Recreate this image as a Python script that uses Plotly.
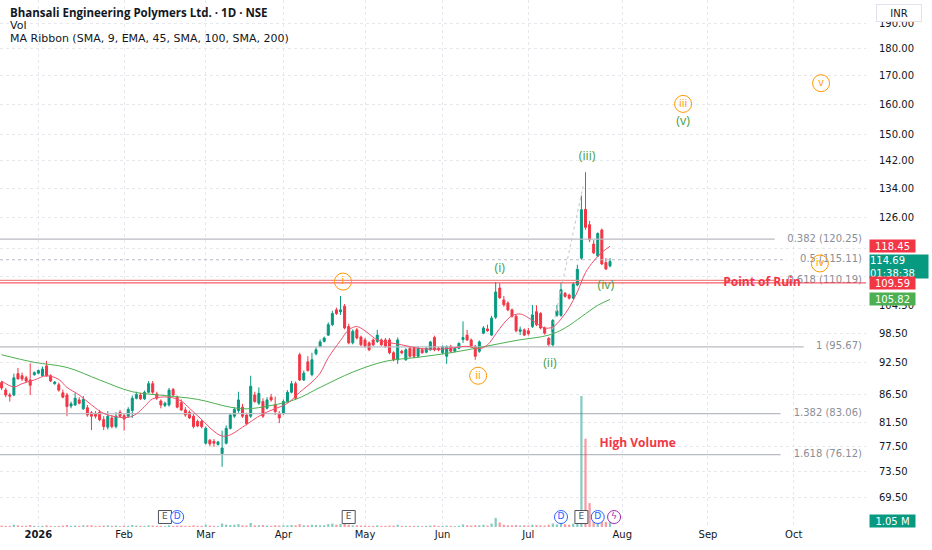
import numpy as np
import pandas as pd
import plotly.graph_objects as go

# ---- data --------------------------------------------------------------------
holidays = ["2025-12-25", "2026-01-26", "2026-03-03", "2026-03-26", "2026-03-31",
            "2026-04-03", "2026-04-14", "2026-05-01", "2026-05-28", "2026-06-26",
            "2026-09-14", "2026-10-02", "2026-10-20"]
sessions = pd.bdate_range("2025-12-18", "2026-10-30")
sessions = sessions[~sessions.isin(pd.to_datetime(holidays))]

opens = [88.7, 87.3, 86.4, 86.4, 90.4, 90.0, 89.6, 89.2, 90.2, 90.5,
         90.0, 91.9, 90.0, 88.5, 88.3, 86.8, 86.4, 84.4, 84.6, 85.5,
         83.9, 84.1, 83.2, 83.1, 83.3, 82.0, 80.7, 82.3, 80.8, 83.3,
         82.7, 82.6, 83.6, 85.8, 86.4, 85.7, 86.9, 88.5, 86.6, 85.3,
         84.5, 84.6, 87.4, 86.0, 85.0, 83.7, 83.3, 82.6, 81.7, 81.7,
         78.0, 78.5, 78.3, 77.8, 76.3, 78.0,
         80.5, 82.6, 83.6, 84.2, 82.8, 82.6, 86.4, 84.9, 85.2, 84.0,
         86.0, 84.6, 83.1, 83.1, 85.2, 86.9, 88.5, 94.1, 89.2, 92.7,
         90.2, 94.3, 95.8, 96.8, 98.1, 100.3, 103.5, 103.1, 104.3, 99.9,
         96.5, 99.2, 97.7, 97.1, 96.5, 97.1, 96.8, 97.1, 97.1, 97.1,
         94.5, 93.1, 94.8, 93.1, 95.4, 95.4, 93.8, 95.1, 94.6, 95.1,
         97.6, 95.4, 94.5, 93.8, 95.8, 94.8, 95.4, 97.2, 98.1, 97.1,
         95.8, 94.8, 98.5, 99.4, 98.1, 101.9, 108.4, 105.7, 105.0, 103.5, 102.1,
         98.9, 99.2, 99.0, 99.9, 103.1, 102.7, 99.6, 97.4, 96.1, 102.3,
         102.3, 107.2, 106.8, 106.1, 109.1, 115.5, 128.1, 124.0, 119.0, 116.0,
         122.6, 114.4, 113.6]
highs = [89.0, 87.7, 86.8, 90.4, 91.5, 90.6, 90.0, 92.4, 90.8, 91.2,
         91.8, 92.9, 90.3, 89.0, 88.7, 87.4, 86.8, 85.2, 86.8, 86.0,
         86.2, 84.6, 83.5, 83.5, 83.7, 82.6, 83.5, 82.8, 83.3, 83.7,
         83.0, 84.2, 86.3, 87.0, 86.8, 87.2, 89.0, 89.0, 87.0, 85.6,
         85.2, 87.7, 87.7, 86.3, 85.6, 84.2, 83.6, 83.0, 82.0, 82.0,
         80.8, 78.7, 78.7, 78.4, 80.1, 81.0,
         83.0, 84.2, 87.0, 84.8, 83.2, 90.0, 87.0, 87.8, 85.8, 86.0,
         86.6, 86.1, 83.5, 85.6, 87.3, 89.0, 88.9, 94.5, 91.0, 93.8,
         94.5, 95.6, 97.2, 97.8, 100.8, 103.3, 104.0, 106.6, 104.8, 100.5,
         99.3, 99.6, 98.0, 97.5, 96.8, 97.4, 99.2, 97.4, 97.5, 97.5,
         94.8, 97.6, 95.1, 95.4, 95.7, 95.8, 95.8, 95.4, 95.6, 96.9,
         98.0, 95.7, 96.0, 96.0, 96.1, 95.6, 96.6, 101.0, 99.2, 97.4,
         96.1, 97.0, 100.0, 100.3, 102.2, 109.8, 109.5, 106.6, 105.4, 103.8, 102.4,
         99.9, 99.5, 99.6, 104.6, 104.5, 103.0, 99.9, 97.7, 101.5, 104.6,
         109.6, 107.5, 107.1, 109.7, 113.9, 131.9, 138.6, 125.0, 120.0, 122.0,
         123.0, 115.5, 115.5]
lows = [87.3, 86.0, 85.2, 86.2, 89.3, 89.0, 88.8, 86.4, 90.0, 90.3,
        89.9, 89.8, 88.8, 88.3, 87.0, 85.8, 82.6, 84.0, 84.4, 84.7,
        83.7, 82.5, 80.2, 82.2, 81.7, 80.2, 80.3, 80.5, 80.5, 82.4,
        80.1, 82.3, 82.3, 85.6, 85.5, 85.5, 86.7, 86.6, 85.5, 84.0,
        84.2, 84.3, 86.2, 84.0, 83.5, 82.5, 82.1, 80.5, 80.7, 80.5,
        77.8, 77.5, 77.4, 77.6, 74.2, 77.8,
        80.3, 82.3, 83.2, 82.3, 81.0, 82.3, 85.0, 84.6, 82.3, 83.8,
        85.2, 82.8, 81.4, 82.8, 85.0, 86.7, 85.5, 89.0, 89.0, 90.8,
        89.9, 94.0, 95.6, 96.6, 97.9, 100.0, 102.4, 102.4, 99.3, 96.2,
        96.2, 97.2, 95.8, 95.5, 94.8, 95.8, 96.5, 95.9, 95.5, 94.2,
        92.8, 92.3, 94.2, 92.9, 93.5, 93.4, 93.5, 94.3, 94.4, 94.9,
        94.8, 94.8, 94.2, 92.3, 94.5, 94.6, 95.2, 96.5, 96.9, 95.5,
        93.1, 94.5, 98.3, 98.8, 97.9, 101.5, 105.9, 104.2, 103.2, 101.8, 98.7,
        98.1, 97.9, 98.0, 99.6, 100.0, 99.3, 98.2, 95.67, 95.7, 102.0,
        102.0, 106.2, 105.8, 105.9, 108.8, 115.1, 122.7, 119.5, 116.5, 115.8,
        113.8, 112.6, 113.3]
closes = [87.7, 86.4, 86.2, 89.6, 89.4, 89.4, 89.0, 88.2, 90.6, 91.0,
          91.3, 90.0, 89.0, 88.8, 87.3, 86.0, 84.3, 84.8, 85.8, 84.9,
          85.6, 82.8, 82.6, 82.6, 82.0, 80.8, 82.6, 80.8, 82.6, 82.6,
          82.1, 83.8, 85.8, 86.5, 85.7, 86.9, 88.5, 86.9, 85.8, 84.6,
          84.9, 87.3, 86.4, 84.2, 83.7, 82.8, 82.3, 80.8, 80.9, 80.8,
          80.5, 77.9, 78.0, 78.2, 77.2, 80.5,
          82.8, 83.8, 85.5, 82.6, 81.3, 88.0, 85.2, 86.7, 82.6, 85.5,
          85.5, 83.4, 82.3, 85.2, 86.9, 88.5, 85.8, 89.2, 90.5, 91.0,
          93.1, 95.1, 96.7, 97.5, 100.3, 102.7, 102.7, 103.5, 99.6, 96.5,
          98.9, 97.5, 96.1, 95.8, 95.1, 96.1, 98.1, 96.1, 95.8, 94.5,
          93.1, 97.1, 94.5, 95.1, 93.8, 93.8, 95.4, 94.5, 95.4, 96.7,
          95.1, 95.1, 95.7, 95.7, 94.8, 95.4, 96.4, 97.6, 97.1, 95.8,
          93.8, 96.7, 99.6, 99.0, 101.7, 107.5, 106.2, 104.6, 103.5, 102.1, 99.0,
          99.2, 98.1, 98.4, 102.4, 100.3, 99.6, 98.5, 96.1, 101.2, 103.3,
          108.0, 106.5, 106.1, 109.3, 112.8, 128.0, 123.3, 120.1, 116.8, 121.7,
          114.1, 112.9, 114.69]
volume_m = [0.25, 0.2, 0.2, 0.4, 0.3, 0.2, 0.2, 0.35, 0.2, 0.15,
            0.2, 0.3, 0.2, 0.15, 0.2, 0.25, 0.35, 0.2, 0.25, 0.2,
            0.3, 0.3, 0.3, 0.15, 0.2, 0.25, 0.3, 0.2, 0.25, 0.15,
            0.25, 0.2, 0.35, 0.25, 0.2, 0.2, 0.3, 0.25, 0.2, 0.2,
            0.15, 0.3, 0.2, 0.25, 0.25, 0.2, 0.2, 0.3, 0.2, 0.2,
            0.4, 0.25, 0.2, 0.15, 0.6, 0.4,
            0.35, 0.4, 0.5, 0.3, 0.25, 0.7, 0.3, 0.3, 0.35, 0.25,
            0.2, 0.3, 0.25, 0.3, 0.3, 0.35, 0.3, 0.5, 0.3, 0.3,
            0.4, 0.35, 0.3, 0.3, 0.5, 0.6, 0.4, 0.55, 0.6, 0.4,
            0.3, 0.3, 0.25, 0.25, 0.2, 0.2, 0.3, 0.2, 0.2, 0.25,
            0.25, 0.4, 0.2, 0.2, 0.2, 0.2, 0.2, 0.15, 0.2, 0.25,
            0.3, 0.2, 0.2, 0.25, 0.2, 0.15, 0.2, 0.45, 0.3, 0.25,
            0.3, 0.3, 0.4, 0.25, 0.6, 1.6, 0.8, 0.4, 0.3, 0.3, 0.35,
            0.25, 0.3, 0.25, 0.4, 0.35, 0.3, 0.25, 0.4, 0.6, 0.45,
            1.2, 0.5, 0.4, 0.6, 1.0, 23.0, 15.5, 4.2, 1.2, 1.6,
            1.5, 0.9, 1.05]

# moving averages (bar index, value)
sma9_idx = [0, 3, 5, 8, 11, 14, 16, 19, 22, 25, 28, 31, 33, 35, 37, 41, 44, 46, 49, 52,
            54, 56, 59, 64, 70, 73, 76, 78, 80, 83, 85, 87, 89, 92, 94, 98, 102, 106, 110,
            114, 117, 119, 121, 123, 125, 127, 129, 131, 133, 135, 137, 139, 141, 143, 145,
            147, 149]
sma9_val = [89.0, 87.9, 88.5, 89.2, 90.0, 89.3, 87.8, 86.4, 84.6, 83.1, 82.5, 82.4, 83.0,
            84.3, 85.7, 86.0, 85.3, 84.0, 82.0, 80.0, 79.2, 79.4, 80.7, 83.0, 84.9, 86.9,
            88.8, 90.5, 93.5, 97.0, 99.2, 99.9, 99.0, 97.1, 96.7, 96.1, 95.4, 95.2, 95.4,
            95.8, 95.3, 96.1, 98.3, 100.6, 102.2, 102.6, 101.8, 100.6, 99.6, 99.8, 101.5,
            104.0, 107.5, 112.0, 114.8, 116.9, 118.45]
ema45_idx = [0, 8, 16, 24, 32, 40, 48, 56, 60, 66, 72, 78, 86, 94, 102, 110, 118, 126,
             134, 138, 142, 146, 149]
ema45_val = [94.1, 92.6, 91.6, 89.2, 87.0, 86.3, 85.6, 84.2, 83.9, 84.5, 85.6, 87.8, 90.7,
             92.8, 93.6, 94.5, 95.7, 97.0, 98.1, 99.6, 102.0, 104.5, 105.82]

fib_ratio = [0.382, 0.5, 0.618, 1, 1.382, 1.618]
fib_price = [120.25, 115.11, 110.19, 95.67, 83.06, 76.12]
fib_leg_idx = [134, 142.4]
fib_leg_price = [95.67, 134.5]
ruin_price = 109.59

circle_labels = ["i", "ii", "iii", "iv", "v"]
circle_idx = [83.6, 116.7, 166.9, 200.4, 200.7]
circle_price = [109.9, 90.0, 160.2, 114.2, 167.4]
paren_labels = ["(i)", "(ii)", "(iii)", "(iv)", "(v)"]
paren_idx = [122.0, 134.3, 143.4, 148.0, 166.9]
paren_price = [113.0, 92.3, 143.2, 108.8, 154.3]

event_kind = ["E", "D", "E", "D", "E", "D", "S"]
event_idx = [40, 43, 85, 137, 142, 146, 150]

y_ticks = [190, 180, 170, 160, 150, 142, 134, 126, 118, 111, 104.5, 98.5, 92.5, 86.5,
           81.5, 77.5, 73.5, 69.5]

# ---- styling --------------------------------------------------------------------
UP = "#089981"
DOWN = "#f23645"
ORANGE = "#ff9800"
WAVE_GREEN = "#43a047"
FONT = "DejaVu Sans"
GRID = "#e6e8ee"

x = np.arange(len(closes))
x_range = [-0.4, 211.7]
y_lo, y_hi = 65.3, 199.7
vol_top = 92.5

month_idx, month_txt = [], []
for i in range(1, len(sessions)):
    if sessions[i].month != sessions[i - 1].month:
        month_idx.append(i)
        month_txt.append("<b>2026</b>" if sessions[i].month == 1 else sessions[i].strftime("%b"))

fig = go.Figure()

# fib levels: line stops short of its text label
px_per_bar = 866 / (x_range[1] - x_range[0])
for r, p in zip(fib_ratio, fib_price):
    label = f"{r:g} ({p:.2f})"
    end = x_range[1] - 1.0 - (len(label) * 5.8 + 6) / px_per_bar
    fig.add_trace(go.Scatter(x=[x_range[0], end], y=[p, p], mode="lines",
                             line=dict(color="#ee8a8a" if r == 0.618 else "#b8bbc3", width=1.2,
                                       dash="dot" if r == 0.5 else "solid"),
                             hoverinfo="skip", showlegend=False))
    fig.add_trace(go.Scatter(x=[x_range[1] - 1.0], y=[p], mode="text", text=[label],
                             textposition="middle left",
                             textfont=dict(family=FONT, size=10, color="#8a8e97"),
                             hoverinfo="skip", showlegend=False))

fig.add_trace(go.Scatter(x=fib_leg_idx, y=fib_leg_price, mode="lines",
                         line=dict(color="#c3c6cc", width=1, dash="dot"),
                         hoverinfo="skip", showlegend=False))

# point of ruin
fig.add_trace(go.Scatter(x=x_range, y=[ruin_price, ruin_price], mode="lines",
                         line=dict(color=DOWN, width=1),
                         hoverinfo="skip", showlegend=False))
fig.add_trace(go.Scatter(x=[186.2], y=[ruin_price], mode="text", text=["<b>Point of Ruin</b>"],
                         textposition="middle center",
                         textfont=dict(family="Open Sans", size=12, color=DOWN),
                         hoverinfo="skip", showlegend=False))

# candles
fig.add_trace(go.Candlestick(
    x=x, open=opens, high=highs, low=lows, close=closes,
    increasing=dict(line=dict(color=UP, width=1), fillcolor=UP),
    decreasing=dict(line=dict(color=DOWN, width=1), fillcolor=DOWN),
    whiskerwidth=0, hoverinfo="skip", showlegend=False))

# moving averages
fig.add_trace(go.Scatter(x=ema45_idx, y=ema45_val, mode="lines", line_shape="spline",
                         line=dict(color="#4caf50", width=1), hoverinfo="skip", showlegend=False))
fig.add_trace(go.Scatter(x=sma9_idx, y=sma9_val, mode="lines", line_shape="spline",
                         line=dict(color="#f0506e", width=1), hoverinfo="skip", showlegend=False))

# elliott wave labels
fig.add_trace(go.Scatter(x=circle_idx, y=circle_price, mode="markers+text", text=circle_labels,
                         textposition="middle center",
                         textfont=dict(family="Open Sans", size=11, color=ORANGE),
                         marker=dict(symbol="circle", size=17, color="rgba(255,255,255,0)",
                                     line=dict(color=ORANGE, width=1)),
                         hoverinfo="skip", showlegend=False))
fig.add_trace(go.Scatter(x=paren_idx, y=paren_price, mode="text", text=paren_labels,
                         textposition="middle center",
                         textfont=dict(family="Open Sans", size=12.5, color=WAVE_GREEN),
                         hoverinfo="skip", showlegend=False))

fig.add_trace(go.Scatter(x=[155.8], y=[77.9], mode="text", text=["<b>High Volume</b>"],
                         textposition="middle center",
                         textfont=dict(family="Open Sans", size=12, color=DOWN),
                         hoverinfo="skip", showlegend=False))

# volume pane (overlay)
vol_colors = ["rgba(8,153,129,0.5)" if c >= o else "rgba(242,54,69,0.5)"
              for o, c in zip(opens, closes)]
fig.add_trace(go.Bar(x=x, y=volume_m, marker=dict(color=vol_colors, line_width=0), width=0.55,
                     yaxis="y2", hoverinfo="skip", showlegend=False))

# event badges
ev_sym = {"E": "square", "D": "circle", "S": "circle"}
ev_col = {"E": "#50535e", "D": "#2962ff", "S": "#9c27b0"}
ev_txt = {"E": "E", "D": "D", "S": "ϟ"}
fig.add_trace(go.Scatter(
    x=event_idx, y=[1.75] * len(event_idx), yaxis="y2", mode="markers+text",
    text=[ev_txt[k] for k in event_kind], textposition="middle center",
    textfont=dict(family=FONT, size=9, color=[ev_col[k] for k in event_kind]),
    marker=dict(symbol=[ev_sym[k] for k in event_kind], size=13, color="white",
                line=dict(color=[ev_col[k] for k in event_kind], width=1)),
    hoverinfo="skip", showlegend=False))

# ---- layout ---------------------------------------------------------------------
fig.update_layout(
    width=932, height=550,
    margin=dict(l=0, r=66, t=0, b=23),
    paper_bgcolor="white", plot_bgcolor="white",
    font=dict(family=FONT, size=10, color="#131722"),
    showlegend=False,
    xaxis=dict(range=x_range, tickvals=month_idx, ticktext=month_txt, ticks="",
               showgrid=True, gridcolor=GRID, griddash="dot", zeroline=False,
               showline=False, rangeslider=dict(visible=False),
               tickfont=dict(size=10, color="#131722")),
    yaxis=dict(type="log", range=[np.log10(y_lo), np.log10(y_hi)], side="right",
               tickvals=y_ticks, tickformat=".2f", ticks="", ticklabelstandoff=12,
               showgrid=True, gridcolor=GRID, griddash="dot", zeroline=False,
               showline=False, tickfont=dict(size=10, color="#131722")),
    yaxis2=dict(overlaying="y", range=[0, vol_top], visible=False, showgrid=False),
)

anns = []
legend_lines = [("<b>Bhansali Engineering Polymers Ltd. · 1D · NSE</b>", 12, "Open Sans", 11.5),
                ("Vol", 25, FONT, 11),
                ("MA Ribbon (SMA, 9, EMA, 45, SMA, 100, SMA, 200)", 38, FONT, 11)]
for txt, ypx, fam, size in legend_lines:
    anns.append(dict(text=txt, xref="paper", yref="paper", x=8 / 866, y=1 - ypx / 527,
                     xanchor="left", yanchor="middle", showarrow=False,
                     font=dict(family=fam, size=size, color="#131722")))

anns.append(dict(text="INR", xref="paper", yref="paper", x=1, y=1, xanchor="left",
                 yanchor="top", xshift=10, yshift=-4, showarrow=False, width=42, height=14,
                 bgcolor="white", bordercolor="#e0e3eb", borderwidth=1, borderpad=1,
                 font=dict(family=FONT, size=10, color="#131722")))

# current price tag first so the neighbouring tags sit on top of it
anns.append(dict(text="114.69<br>01:38:38", xref="paper", yref="y", x=1, y=np.log10(closes[-1]),
                 xanchor="left", yanchor="top", yshift=7, xshift=3, showarrow=False,
                 width=58, height=23, bgcolor=UP, borderpad=0, align="left",
                 font=dict(family=FONT, size=10, color="white")))
price_tags = [("118.45", 118.45, DOWN), ("109.59", 109.59, DOWN), ("105.82", 105.82, "#4caf50")]
for txt, val, col in price_tags:
    anns.append(dict(text=txt, xref="paper", yref="y", x=1, y=np.log10(val), xanchor="left",
                     yanchor="middle", xshift=3, showarrow=False, width=45, height=12,
                     bgcolor=col, borderpad=0,
                     font=dict(family=FONT, size=10, color="white")))
anns.append(dict(text="1.05 M", xref="paper", yref="y2", x=1, y=volume_m[-1], xanchor="left",
                 yanchor="middle", xshift=3, showarrow=False, width=45, height=12,
                 bgcolor=UP, borderpad=0, font=dict(family=FONT, size=10, color="white")))
fig.update_layout(annotations=anns)

fig.write_html("out.html", config={"displayModeBar": False},
               post_script="document.body.style.margin='0';")
